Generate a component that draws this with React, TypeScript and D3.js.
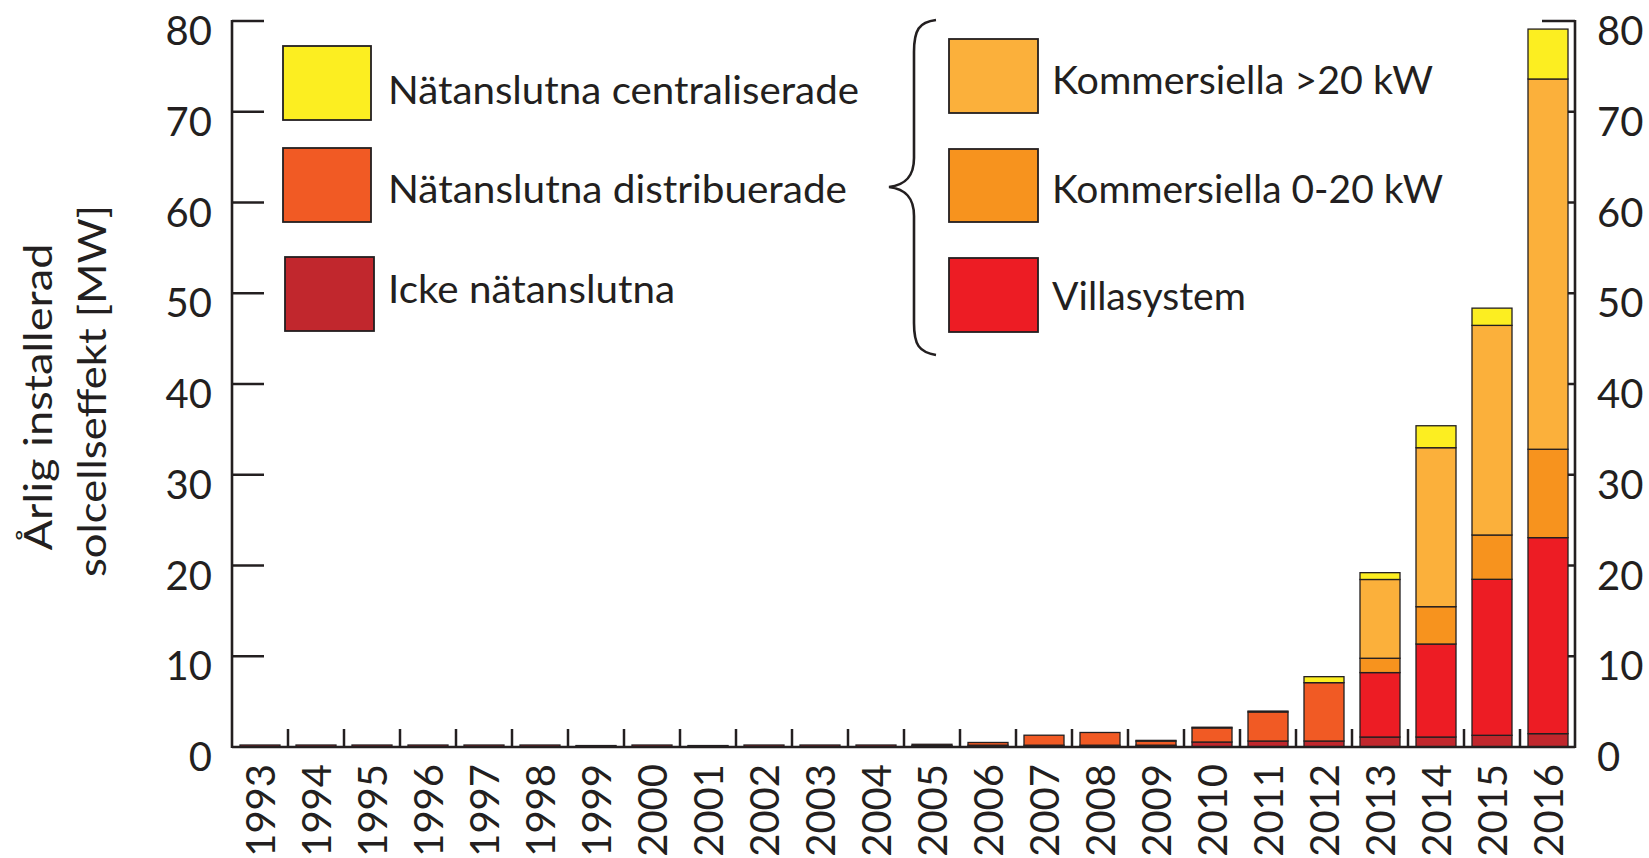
import React from "react";
import * as d3 from "d3";

const years = ["1993","1994","1995","1996","1997","1998","1999","2000","2001","2002","2003","2004","2005","2006","2007","2008","2009","2010","2011","2012","2013","2014","2015","2016"];
const ickeNatanslutna = [0.22,0.22,0.22,0.22,0.22,0.22,0.08,0.22,0.08,0.22,0.22,0.22,0.15,0.2,0.2,0.2,0.2,0.55,0.66,0.66,1.1,1.1,1.29,1.47];
const distribuerade = [0,0,0,0,0,0,0.08,0,0.08,0,0,0,0.15,0.3,1.1,1.4,0.45,1.55,3.2,6.43,0,0,0,0];
const villasystem = [0,0,0,0,0,0,0,0,0,0,0,0,0,0,0,0,0,0,0,0,7.1,10.25,17.19,21.6];
const kommersiella020 = [0,0,0,0,0,0,0,0,0,0,0,0,0,0,0,0,0,0,0,0,1.58,4.11,4.88,9.74];
const kommersiella20 = [0,0,0,0,0,0,0,0,0,0,0,0,0,0,0,0,0,0,0,0,8.68,17.52,23.1,40.8];
const centraliserade = [0,0,0,0,0,0,0,0,0,0,0,0,0,0,0,0,0.08,0.08,0.1,0.66,0.75,2.42,1.9,5.5];
const yTicks = [0,10,20,30,40,50,60,70,80];

const seriesKeys = ["icke","distrib","villa","k020","k20","centr"];
const seriesColors = ["#C1272D","#F15A24","#ED1C24","#F7931E","#FBB03B","#FCEE21"];

const legendLeftLabels = ["Nätanslutna centraliserade","Nätanslutna distribuerade","Icke nätanslutna"];
const legendLeftColors = ["#FCEE21","#F15A24","#C1272D"];
const legendRightLabels = ["Kommersiella >20 kW","Kommersiella 0-20 kW","Villasystem"];
const legendRightColors = ["#FBB03B","#F7931E","#ED1C24"];

const titleLines = ["Årlig installerad","solcellseffekt [MW]"];

const FONT = "Lato, 'Noto Sans', sans-serif";
const INK = "#231F20";

export default function App() {
  const rows = years.map((yr, i) => ({
    year: yr,
    icke: ickeNatanslutna[i],
    distrib: distribuerade[i],
    villa: villasystem[i],
    k020: kommersiella020[i],
    k20: kommersiella20[i],
    centr: centraliserade[i],
  }));
  const stacked = d3.stack<any>().keys(seriesKeys)(rows as any);

  const left = 232, right = 1575, top = 21, base = 747;
  const x = d3.scaleBand<string>().domain(years).range([left, 1576]).paddingInner(16 / 56).paddingOuter(8 / 56);
  const y = d3.scaleLinear().domain([0, 80]).range([base, top]);
  const gap = (x.step() - x.bandwidth()) / 2;

  const leftSw = [{ x: 283, y: 46, w: 88, h: 74 }, { x: 283, y: 148, w: 88, h: 74 }, { x: 285, y: 257, w: 89, h: 74 }];
  const leftTxt = [{ y: 104, len: 471 }, { y: 203, len: 459 }, { y: 303, len: 287 }];
  const rightSw = [{ y: 39, h: 74 }, { y: 149, h: 73 }, { y: 258, h: 74 }];
  const rightTxt = [{ y: 94, len: 381 }, { y: 203, len: 391 }, { y: 310, len: 194 }];

  return (
    <svg width={1649} height={858} style={{ position: "absolute", left: 0, top: 0, background: "#fff" }} fontFamily={FONT}>
      <rect x={0} y={0} width={1649} height={858} fill="#fff" />
      {yTicks.filter(v => v > 0).map(v => (
        <g key={"t" + v}>
          <line x1={left} x2={left + 32} y1={y(v)} y2={y(v)} stroke={INK} strokeWidth={2.5} />
          <line x1={right - 33} x2={right} y1={y(v)} y2={y(v)} stroke={INK} strokeWidth={2.5} />
        </g>
      ))}
      {years.slice(1).map(yr => (
        <line key={"xt" + yr} x1={(x(yr) as number) - gap} x2={(x(yr) as number) - gap} y1={base} y2={base - 18} stroke={INK} strokeWidth={2.5} />
      ))}
      {stacked.map((s, si) => (
        <g key={s.key} fill={seriesColors[si]}>
          {s.map((d, i) => {
            const h = y(d[0]) - y(d[1]);
            if (h <= 0) return null;
            return (
              <rect key={i} x={x(years[i])} y={y(d[1])} width={x.bandwidth()} height={h} stroke={INK} strokeWidth={1.3} />
            );
          })}
        </g>
      ))}
      <line x1={left} x2={left} y1={top - 1} y2={base + 1} stroke={INK} strokeWidth={2.6} />
      <line x1={right} x2={right} y1={top - 1} y2={base + 1} stroke={INK} strokeWidth={2.6} />
      <line x1={left} x2={right} y1={base} y2={base} stroke={INK} strokeWidth={2.6} />
      {yTicks.map(v => (
        <g key={"l" + v} fontSize={40} fill={INK}>
          <text x={212} y={y(v) + 24} textAnchor="end">{v}</text>
          <text x={1597} y={y(v) + 24} textAnchor="start">{v}</text>
        </g>
      ))}
      {years.map(yr => (
        <text key={"xl" + yr} transform={`translate(${(x(yr) as number) + x.bandwidth() / 2 + 15},764) rotate(-90)`} textAnchor="end" fontSize={40} fill={INK}>{yr}</text>
      ))}
      <text transform="translate(52,397) rotate(-90)" textAnchor="middle" fontSize={38} fill={INK} textLength={307} lengthAdjust="spacingAndGlyphs">{titleLines[0]}</text>
      <text transform="translate(106,391) rotate(-90)" textAnchor="middle" fontSize={38} fill={INK} textLength={372} lengthAdjust="spacingAndGlyphs">{titleLines[1]}</text>
      {legendLeftLabels.map((lab, i) => (
        <g key={"ll" + i}>
          <rect x={leftSw[i].x} y={leftSw[i].y} width={leftSw[i].w} height={leftSw[i].h} fill={legendLeftColors[i]} stroke={INK} strokeWidth={1.8} />
          <text x={388} y={leftTxt[i].y} fontSize={38} fill={INK} textLength={leftTxt[i].len} lengthAdjust="spacingAndGlyphs">{lab}</text>
        </g>
      ))}
      <path d="M936,20 C919,22 914,30 914,52 L914,158 C914,177 905,185 889,187 C905,189 914,197 914,216 L914,323 C914,345 919,352 936,355" fill="none" stroke={INK} strokeWidth={2.6} />
      {legendRightLabels.map((lab, i) => (
        <g key={"lr" + i}>
          <rect x={949} y={rightSw[i].y} width={89} height={rightSw[i].h} fill={legendRightColors[i]} stroke={INK} strokeWidth={1.8} />
          <text x={1052} y={rightTxt[i].y} fontSize={38} fill={INK} textLength={rightTxt[i].len} lengthAdjust="spacingAndGlyphs">{lab}</text>
        </g>
      ))}
    </svg>
  );
}
